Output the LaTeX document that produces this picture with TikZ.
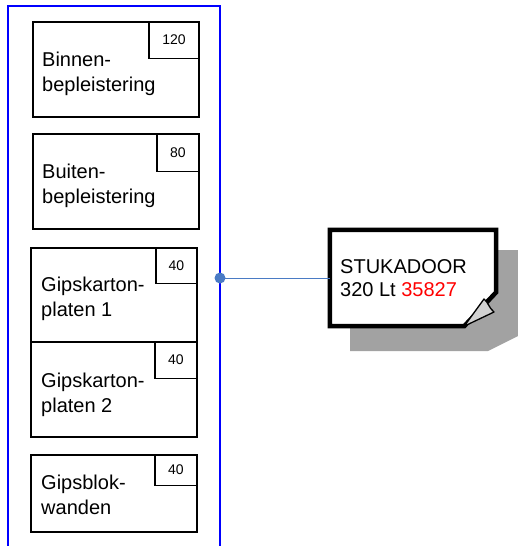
\documentclass[tikz,border=0pt]{standalone}
\usepackage{fontspec}
\setmainfont{Liberation Sans}
\usetikzlibrary{positioning}

\definecolor{dotblue}{HTML}{4A7BC4}
\definecolor{shadowgray}{HTML}{A2A2A2}
\definecolor{foldgray}{HTML}{D2D2D2}

\tikzset{
  layer/.style={draw, line width=1.6pt, rectangle, inner sep=0pt, anchor=north west},
  thick box/.style={draw, line width=1.3pt, rectangle, inner sep=0pt, anchor=north east,
    font=\fontsize{14}{16}\selectfont},
  layer text/.style={anchor=north west, inner sep=0pt, align=left,
    font=\fontsize{20}{25}\selectfont}
}

\begin{document}
\begin{tikzpicture}[x=1pt, y=-1pt]
  \useasboundingbox (0,0) rectangle (518,546);

  % wall frame
  \draw[blue, line width=2.4pt] (8,560) -- (8,6) -- (220,6) -- (220,560);

  % layers
  \node[layer, minimum width=166pt, minimum height=95pt] (binnen) at (32,21) {};
  \node[thick box, minimum width=50pt, minimum height=37pt] (n120) at (binnen.north east) {120};
  \node[layer text] (tbinnen) at ([shift={(10,31)}]binnen.north west) {Binnen-\\bepleistering};

  \node[layer, minimum width=166pt, minimum height=95pt] (buiten) at (32,133) {};
  \node[thick box, minimum width=42pt, minimum height=38pt] (n80) at (buiten.north east) {80};
  \node[layer text] (tbuiten) at ([shift={(10,31)}]buiten.north west) {Buiten-\\bepleistering};

  \node[layer, minimum width=166pt, minimum height=94pt] (gips1) at (30,247) {};
  \node[thick box, minimum width=41pt, minimum height=36pt] (n40a) at (gips1.north east) {40};
  \node[layer text] (tgips1) at ([shift={(11,30)}]gips1.north west) {Gipskarton-\\platen 1};

  \node[layer, minimum width=166pt, minimum height=95pt] (gips2) at (30,341) {};
  \node[thick box, minimum width=42pt, minimum height=37pt] (n40b) at (gips2.north east) {40};
  \node[layer text] (tgips2) at ([shift={(11,32)}]gips2.north west) {Gipskarton-\\platen 2};

  \node[layer, minimum width=166pt, minimum height=77pt] (blok) at (30,454) {};
  \node[thick box, minimum width=42pt, minimum height=31pt] (n40c) at (blok.north east) {40};
  \node[layer text] (tblok) at ([shift={(11,21)}]blok.north west) {Gipsblok-\\wanden};

  % note with shadow
  \fill[shadowgray] (350,250) -- (530,250) -- (530,330) -- (488,351) -- (350,351) -- cycle;
  \node[minimum width=166pt, minimum height=96pt, inner sep=0pt] (stuk) at (413,278) {};
  \filldraw[fill=white, line width=4.5pt, line join=miter]
    (stuk.north west) -- (stuk.north east) -- ([yshift=34pt]stuk.south east)
    -- ([xshift=-32pt]stuk.south east) -- (stuk.south west) -- cycle;
  \filldraw[fill=foldgray, line width=1.3pt, line join=round]
    ([xshift=-32pt]stuk.south east) -- (484,299) .. controls (488,302) and (489,308) .. (494,312) -- cycle;
  \node[anchor=north west, inner sep=0pt, align=left, font=\fontsize{20}{23}\selectfont]
    (tstuk) at (340,259) {STUKADOOR\\320 Lt \textcolor{red}{35827}};

  % connector
  \coordinate (wall) at (220,278);
  \draw[dotblue, line width=0.9pt] (wall) -- (stuk.west);
  \fill[dotblue] (wall) circle (5.5pt);
\end{tikzpicture}
\end{document}
